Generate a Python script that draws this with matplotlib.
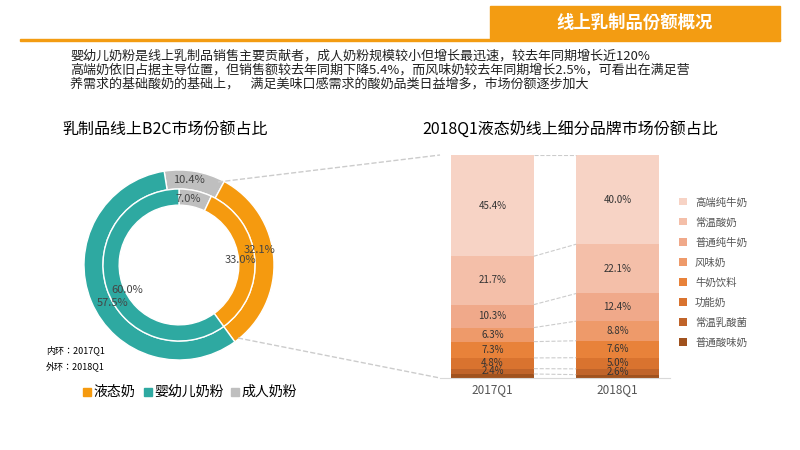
import matplotlib
matplotlib.use("Agg")
import matplotlib.pyplot as plt
from matplotlib.patches import Rectangle
import numpy as np

plt.rcParams['font.family'] = ['Noto Sans CJK SC', 'Noto Sans CJK JP', 'DejaVu Sans']

ring_cats = ["液态奶", "婴幼儿奶粉", "成人奶粉"]
inner_2017 = [33.0, 60.0, 7.0]
outer_2018 = [32.1, 57.5, 10.4]
ring_colors = ["#F59A0F", "#2EA9A1", "#BFBFBF"]

bar_periods = ["2017Q1", "2018Q1"]
brands = ["普通酸味奶", "常温乳酸菌", "功能奶", "牛奶饮料", "风味奶", "普通纯牛奶", "常温酸奶", "高端纯牛奶"]
v2017 = [1.8, 2.4, 4.8, 7.3, 6.3, 10.3, 21.7, 45.4]
v2018 = [1.5, 2.6, 5.0, 7.6, 8.8, 12.4, 22.1, 40.0]
brand_colors = ["#A0521E", "#C0642A", "#D9732F", "#E8823A", "#EE9A6A", "#F0A98A", "#F4BFA9", "#F7D3C5"]

fig = plt.figure(figsize=(8, 4.5), dpi=100)
W, H = 800, 450

# header
fig.add_artist(Rectangle((490/W, 1-40/H), 290/W, 34/H, color="#F39C12", transform=fig.transFigure))
fig.add_artist(Rectangle((20/W, 1-41/H), 760/W, 2/H, color="#F39C12", transform=fig.transFigure))
fig.text(635/W, 1-23/H, "线上乳制品份额概况", color="white", fontsize=12.5, ha="center", va="center", weight="bold")

txt = ("婴幼儿奶粉是线上乳制品销售主要贡献者，成人奶粉规模较小但增长最迅速，较去年同期增长近120%\n"
       "高端奶依旧占据主导位置，但销售额较去年同期下降5.4%，而风味奶较去年同期增长2.5%，可看出在满足营\n"
       "养需求的基础酸奶的基础上，    满足美味口感需求的酸奶品类日益增多，市场份额逐步加大")
fig.text(70/W, 1-50/H, txt, fontsize=9.4, va="top", ha="left", linespacing=1.08, color="#222222")

fig.text(165/W, 1-130/H, "乳制品线上B2C市场份额占比", fontsize=11.5, ha="center", va="center")
fig.text(570/W, 1-130/H, "2018Q1液态奶线上细分品牌市场份额占比", fontsize=11.5, ha="center", va="center")

# donut
ax = fig.add_axes([84/W, 1-360/H, 190/W, 190/H])
order = [2, 0, 1]
ax.pie([outer_2018[i] for i in order], colors=[ring_colors[i] for i in order], radius=1.0,
       startangle=99, counterclock=False, wedgeprops=dict(width=0.20, edgecolor="white", linewidth=1))
ax.pie([inner_2017[i] for i in order], colors=[ring_colors[i] for i in order], radius=0.80,
       startangle=90, counterclock=False, wedgeprops=dict(width=0.17, edgecolor="white", linewidth=1))
ax.set_xlim(-1, 1); ax.set_ylim(-1, 1)
ax.set_aspect("equal")
lk = dict(fontsize=8, ha="center", va="center", color="#444")
ax.text(0.10, 0.89, "10.4%", **lk)
ax.text(0.10, 0.70, "7.0%", **lk)
ax.text(0.85, 0.16, "32.1%", **lk)
ax.text(0.65, 0.05, "33.0%", **lk)
ax.text(-0.55, -0.26, "60.0%", **lk)
ax.text(-0.70, -0.40, "57.5%", **lk)

fig.text(46/W, 1-350/H, "内环：2017Q1", fontsize=6.5, va="center")
fig.text(46/W, 1-366/H, "外环：2018Q1", fontsize=6.5, va="center")
lx = 83
for c, col in zip(ring_cats, ring_colors):
    fig.add_artist(Rectangle((lx/W, 1-396/H), 8/W, 8/H, color=col, transform=fig.transFigure))
    fig.text((lx+10)/W, 1-392/H, c, fontsize=10, va="center")
    lx += 10 + len(c)*13 + 12

# dashed connector lines from donut
fig.add_artist(plt.Line2D([218/W, 440/W], [1-182/H, 1-155/H], color="#CCCCCC", ls="--", lw=1, transform=fig.transFigure))
fig.add_artist(plt.Line2D([238/W, 440/W], [1-338/H, 1-378/H], color="#CCCCCC", ls="--", lw=1, transform=fig.transFigure))

# stacked bars
bx = fig.add_axes([440/W, 1-378/H, 230/W, 223/H])
x = np.arange(2)
bw = 0.66
bottoms = np.zeros(2)
for i, b in enumerate(brands):
    vals = np.array([v2017[i], v2018[i]])
    bx.bar(x, vals, bw, bottom=bottoms, color=brand_colors[i], label=b)
    for j in range(2):
        if i >= 1:
            bx.text(x[j], bottoms[j] + vals[j]/2, f"{vals[j]:.1f}%", ha="center", va="center", fontsize=7, color="#333")
    tops = bottoms + vals
    bx.plot([x[0]+bw/2, x[1]-bw/2], [tops[0], tops[1]], color="#CCCCCC", ls="--", lw=0.8)
    bottoms = tops
bx.set_xlim(-0.42, 1.42)
bx.set_ylim(0, 100)
bx.set_xticks(x)
bx.set_xticklabels(bar_periods, fontsize=8.5, color="#555")
bx.set_yticks([])
for s in ["left", "right", "top"]:
    bx.spines[s].set_visible(False)
bx.spines["bottom"].set_color("#D9D9D9")
bx.tick_params(axis="x", length=0)

h, l = bx.get_legend_handles_labels()
fig.legend(h[::-1], l[::-1], loc="upper left", bbox_to_anchor=(670/W, 1-188/H), frameon=False,
           fontsize=7.5, handlelength=0.7, handleheight=0.7, labelspacing=0.95, labelcolor="#555")

fig.savefig("out.png", dpi=100)
